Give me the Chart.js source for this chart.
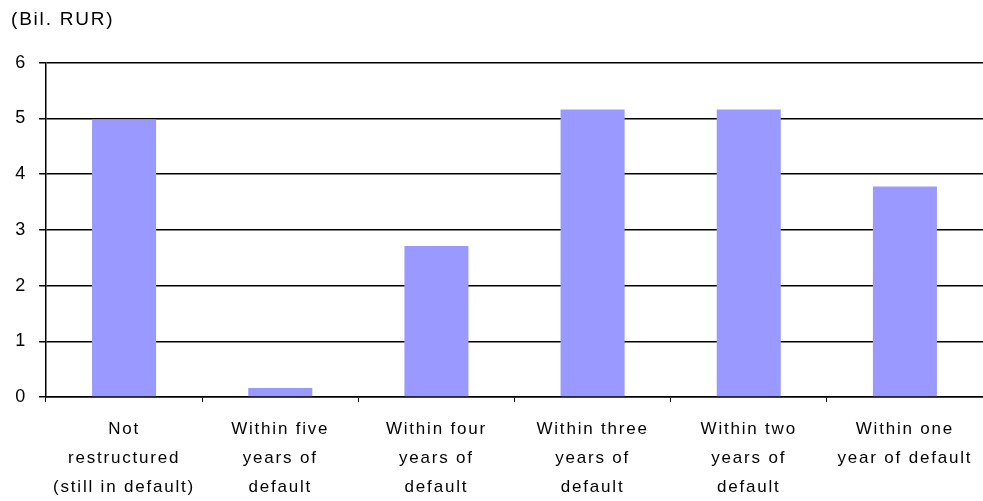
<!DOCTYPE html>
<html>
<head>
<meta charset="utf-8">
<script src="https://cdn.jsdelivr.net/npm/chart.js@4/dist/chart.umd.min.js"></script>
<style>
  html, body { margin: 0; padding: 0; background: #fff; }
  #wrap { width: 983px; height: 501px; }
</style>
</head>
<body>
<div id="wrap"><canvas id="chart"></canvas></div>
<script>
// Defaults ranked by time to restructuring (Bil. RUR)
const categories = [
  ['Not', 'restructured', '(still in default)'],
  ['Within five', 'years of', 'default'],
  ['Within four', 'years of', 'default'],
  ['Within three', 'years of', 'default'],
  ['Within two', 'years of', 'default'],
  ['Within one', 'year of default']
];
const values = [4.98, 0.16, 2.71, 5.16, 5.16, 3.78];
const yTicks = [0, 1, 2, 3, 4, 5, 6];

const FONT = 'Liberation Sans, Arial, sans-serif';

// the original uses a loosely spaced screen font
const spacing = {
  id: 'spacing',
  beforeInit: c => { c.ctx.letterSpacing = '1.8px'; },
  beforeUpdate: c => { c.ctx.letterSpacing = '1.8px'; }
};

new Chart(document.getElementById('chart'), {
  type: 'bar',
  data: {
    labels: categories,
    datasets: [{
      data: values,
      backgroundColor: '#9999ff',
      borderWidth: 0,
      barPercentage: 0.41,
      categoryPercentage: 1
    }]
  },
  plugins: [spacing],
  options: {
    responsive: true,
    maintainAspectRatio: false,
    animation: false,
    layout: { padding: { left: 11, right: 0, top: 0, bottom: 0 } },
    plugins: {
      legend: { display: false },
      tooltip: { enabled: false },
      title: {
        display: true,
        text: '(Bil. RUR)',
        align: 'start',
        color: '#000',
        font: { family: FONT, size: 19, weight: 'normal', lineHeight: 1.2 },
        padding: { top: 8, bottom: 32 }
      }
    },
    scales: {
      x: {
        grid: { display: true, drawOnChartArea: false, drawTicks: true, tickLength: 5, color: '#000', lineWidth: 1 },
        border: { display: true, color: '#000', width: 1.5 },
        ticks: {
          color: '#000',
          padding: 13,
          maxRotation: 0,
          autoSkip: false,
          font: { family: FONT, size: 17, lineHeight: 1.7 }
        },
        afterFit: s => {
          s.height = 104;
          s.paddingLeft = 0;
          s.paddingRight = 0;
        }
      },
      y: {
        min: 0,
        max: 6,
        afterBuildTicks: s => { s.ticks = yTicks.map(v => ({ value: v })); },
        grid: { color: '#000', lineWidth: 1.5, tickLength: 7 },
        border: { display: true, color: '#000', width: 1.5 },
        ticks: {
          color: '#000',
          padding: 12,
          font: { family: FONT, size: 18 }
        },
        afterFit: s => { s.width = 35; }
      }
    }
  }
});
</script>
</body>
</html>
